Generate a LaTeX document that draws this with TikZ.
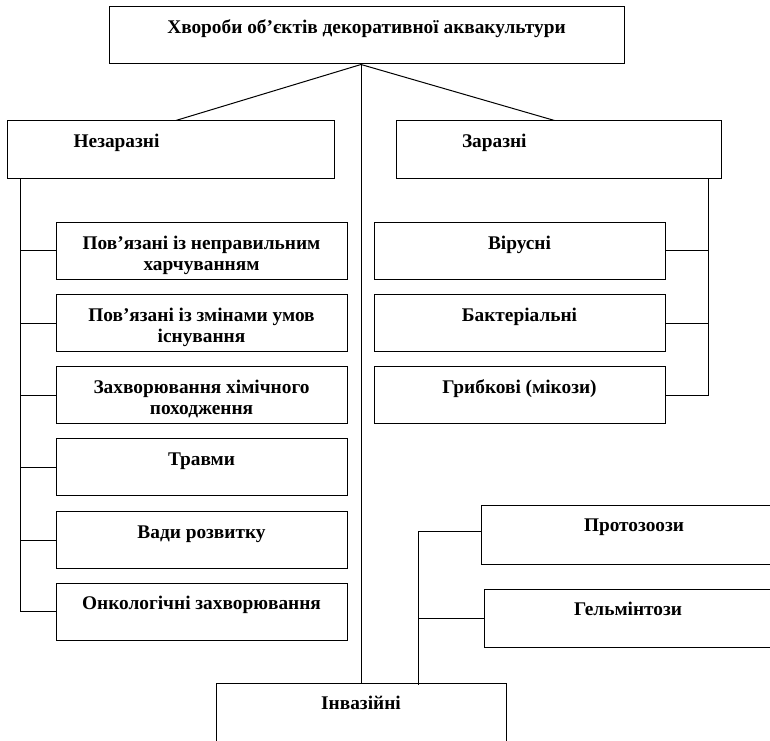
\documentclass[tikz,border=0pt]{standalone}
\usepackage{fontspec}
\setmainfont{Liberation Serif}
\usetikzlibrary{positioning}

\tikzset{every picture/.style={line width=0.75pt}}
\tikzset{
	box/.style={draw, inner sep=0pt},
	smallbox/.style={box, minimum width=218.25pt, minimum height=42.75pt},
	lbl/.style={font=\fontsize{14.5}{15.75}\selectfont\bfseries, align=center, inner sep=0pt, text height=10pt}}

\begin{document}
\begin{tikzpicture}[x=0.75pt,y=0.75pt,yscale=-1,xscale=1]
	\useasboundingbox (0,0) rectangle (770,741);
	\clip (0,0) rectangle (770,741);

	%Shape: Rectangle [top]
	\node[box, minimum width=386.25pt, minimum height=42.75pt] (top) at (366.5,35.5) {};
	%Shape: Rectangle [level 1]
	\node[box, minimum width=245.25pt, minimum height=43.5pt] (nez) at (170.5,150) {};
	\node[box, minimum width=243.75pt, minimum height=43.5pt] (zar) at (558.5,150) {};
	\node[box, minimum width=217.5pt, minimum height=46.5pt] (inv) at (361,714) {};

	%Shape: Rectangle [left column]
	\node[smallbox] (l1) at (201.5,251) {};
	\node[smallbox] (l2) at (201.5,323) {};
	\node[smallbox] (l3) at (201.5,395) {};
	\node[smallbox] (l4) at (201.5,467) {};
	\node[smallbox] (l5) at (201.5,540) {};
	\node[smallbox] (l6) at (201.5,611.5) {};

	%Shape: Rectangle [right column]
	\node[smallbox] (vir) at (519.5,251) {};
	\node[smallbox] (bak) at (519.5,323) {};
	\node[smallbox] (grib) at (519.5,395) {};

	%Shape: Rectangle [invasive]
	\node[box, minimum width=229.5pt, minimum height=44.25pt] (proto) at (634,534.5) {};
	\node[box, minimum width=216pt, minimum height=43.5pt] (helm) at (628,618) {};

	% Text Node
	\node[lbl, below=10pt of top.north] (ttop) {Хвороби об’єктів декоративної аквакультури};
	\node[lbl, below right=10pt and 50pt of nez.north west] (tnez) {Незаразні};
	\node[lbl, below right=10pt and 49.5pt of zar.north west] (tzar) {Заразні};
	\node[lbl, below=25.75pt of l1.north] (tl1) {Пов’язані із неправильним\\харчуванням};
	\node[lbl, below=25.75pt of l2.north] (tl2) {Пов’язані із змінами умов\\існування};
	\node[lbl, below=25.75pt of l3.north] (tl3) {Захворювання хімічного\\походження};
	\node[lbl, below=10pt of l4.north] (tl4) {Травми};
	\node[lbl, below=10pt of l5.north] (tl5) {Вади розвитку};
	\node[lbl, below=10pt of l6.north] (tl6) {Онкологічні захворювання};
	\node[lbl, below=10pt of vir.north] (tvir) {Вірусні};
	\node[lbl, below=10pt of bak.north] (tbak) {Бактеріальні};
	\node[lbl, below=10pt of grib.north] (tgrib) {Грибкові (мікози)};
	\node[lbl, below=10pt of proto.north] (tproto) {Протозоози};
	\node[lbl, below=10pt of helm.north] (thelm) {Гельмінтози};
	\node[lbl, below=10pt of inv.north] (tinv) {Інвазійні};

	%Straight Lines [from top]
	\coordinate (hub) at (inv.north |- top.south);
	\draw (hub) -- ([xshift=4pt]nez.north);
	\draw (hub) -- ([xshift=-3pt]zar.north);
	\draw (hub) -- (inv.north);

	%Straight Lines [left trunk]
	\coordinate (ltrunk) at ([xshift=10.5pt]nez.south west);
	\draw (ltrunk) |- (l6.west);
	\foreach \n in {l1,l2,l3,l4,l5}
		\draw (\n.west) -- (\n.west -| ltrunk);

	%Straight Lines [right trunk]
	\coordinate (rtrunk) at ([xshift=-9.75pt]zar.south east);
	\draw (rtrunk) |- (grib.east);
	\foreach \n in {vir,bak}
		\draw (\n.east) -- (\n.east -| rtrunk);

	%Straight Lines [invasive trunk]
	\coordinate (itrunk) at ([xshift=43pt,yshift=1.5pt]inv.north);
	\draw (itrunk) |- ([yshift=-2.5pt]proto.west);
	\draw (helm.west) -- (helm.west -| itrunk);

\end{tikzpicture}
\end{document}
